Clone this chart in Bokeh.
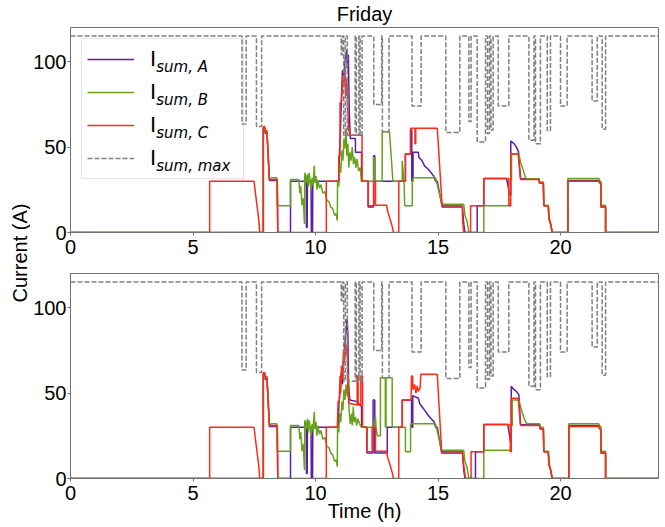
import math
from bokeh.plotting import figure
from bokeh.models import (Range1d, Label, Legend, LegendItem, ColumnDataSource,
                          FixedTicker)
from bokeh.layouts import row, column
from bokeh.embed import file_html
from bokeh.resources import INLINE

# ---------------- data (time in h, current in A) ----------------
x_ticks = [0, 5, 10, 15, 20]
y_ticks = [0, 50, 100]
title_text = "Friday"
x_label = "Time (h)"
y_label = "Current (A)"
legend_sub = ["sum, A", "sum, B", "sum, C", "sum, max"]

i_max = [(0, 115), (7.0, 115), (7.0, 63.5), (7.17, 63.5), (7.17, 115), (7.59, 115), (7.59, 62),
         (7.8, 62), (7.8, 115), (11.05, 115), (11.05, 104), (11.1, 104), (11.1, 115), (11.15, 115),
         (11.15, 57), (11.22, 57), (11.22, 115), (11.3, 115), (11.3, 57), (11.62, 57), (11.62, 115),
         (11.67, 115), (11.67, 57), (11.77, 57), (11.77, 115), (11.82, 115), (11.82, 57), (11.9, 57),
         (11.9, 115), (12.38, 115), (12.38, 75), (12.7, 75), (12.7, 115), (12.73, 115), (12.73, 59),
         (13.0, 59), (13.0, 115), (13.94, 115), (13.94, 74), (14.31, 74), (14.31, 115), (15.32, 115),
         (15.32, 58.5), (15.89, 58.5), (15.89, 115), (16.26, 115), (16.26, 65), (16.35, 65),
         (16.35, 115), (16.6, 115), (16.6, 53), (16.94, 53), (16.94, 115), (17.02, 115), (17.02, 58),
         (17.1, 58), (17.1, 115), (17.16, 115), (17.16, 60), (17.25, 60), (17.25, 115),
         (17.46, 115), (17.46, 74), (17.89, 74), (17.89, 115),
         (18.71, 115), (18.71, 54), (18.92, 54), (18.92, 115), (18.98, 115), (18.98, 52), (19.18, 52),
         (19.18, 115), (19.46, 115), (19.46, 59.5), (19.59, 59.5), (19.59, 115), (20.0, 115),
         (20.0, 74), (20.27, 74), (20.27, 115), (21.29, 115), (21.29, 77), (21.5, 77), (21.5, 115),
         (21.7, 115), (21.7, 60.5), (21.84, 60.5), (21.84, 115), (24, 115)]

top_A = [(0, 0), (7.87, 0), (7.87, 61), (7.93, 61), (7.95, 58), (8.02, 58), (8.12, 30.5), (8.44, 30.5),
         (8.46, 0), (8.98, 0), (8.98, 30), (9.62, 30), (9.63, 3), (9.66, 3), (9.67, 30), (9.82, 30),
         (9.83, 0), (9.88, 0), (9.89, 30), (10.95, 30), (10.98, 48), (11.02, 60), (11.06, 80),
         (11.1, 95), (11.15, 88), (11.2, 100), (11.27, 107), (11.3, 96), (11.34, 104), (11.38, 70),
         (11.42, 55), (11.63, 55), (11.63, 47), (11.88, 47), (11.88, 30), (12.15, 30), (12.15, 15),
         (12.37, 15), (12.37, 45), (12.42, 45), (12.42, 30), (13.67, 30), (13.67, 46), (13.88, 46),
         (13.88, 60), (13.93, 60), (13.93, 30), (13.98, 30), (13.98, 47), (14.2, 47), (14.22, 44),
         (14.35, 42), (14.45, 39), (14.6, 37), (14.72, 35), (14.83, 33), (14.9, 30), (14.97, 30),
         (15.17, 15), (16.0, 15), (16.05, 5), (16.1, 0), (16.6, 0), (16.6, 15.6), (16.87, 15.6),
         (16.87, 31.6), (17.8, 31.6), (17.86, 27), (17.92, 22), (17.97, 22), (17.97, 53.5),
         (18.1, 52), (18.2, 50), (18.28, 47.5), (18.37, 31.5), (19.12, 31.5), (19.14, 29), (19.3, 29),
         (19.32, 15.6), (19.5, 15.6), (19.53, 8), (19.6, 5), (19.66, 0), (20.3, 0), (20.3, 30.5),
         (21.57, 30.5), (21.6, 29), (21.65, 29), (21.65, 15), (21.84, 15), (21.84, 0), (24, 0)]

top_B = [(0, 0), (7.87, 0), (7.87, 61), (7.93, 61), (7.95, 59), (8.02, 59), (8.12, 31), (8.2, 32),
         (8.42, 32), (8.44, 15.6), (8.98, 15.6), (8.98, 31), (9.32, 31), (9.36, 23), (9.4, 27),
         (9.45, 16), (9.5, 20), (9.55, 5), (9.56, 35), (9.6, 33), (9.63, 29), (9.67, 34), (9.71, 27),
         (9.74, 35), (9.78, 30), (9.82, 25), (9.86, 32), (9.9, 28), (9.95, 39), (9.98, 29),
         (10.02, 33), (10.06, 25), (10.1, 31), (10.16, 26), (10.22, 28), (10.3, 23), (10.38, 24),
         (10.46, 19), (10.55, 18), (10.62, 15), (10.7, 14), (10.78, 10), (10.84, 11), (10.89, 7),
         (10.9, 30), (10.95, 27), (10.99, 40), (11.03, 35), (11.08, 48), (11.12, 42), (11.16, 55),
         (11.2, 49), (11.25, 61), (11.28, 45), (11.32, 52), (11.36, 38), (11.4, 47), (11.45, 42),
         (11.5, 50), (11.55, 40), (11.6, 44), (11.65, 38), (11.7, 43), (11.76, 36), (11.82, 38),
         (11.88, 30), (12.38, 30), (12.38, 44), (12.43, 44), (12.43, 30), (12.72, 30), (12.72, 59),
         (13.02, 59), (13.16, 30), (13.54, 30), (13.54, 42), (13.62, 28), (13.64, 15.6), (13.95, 15.6),
         (13.95, 30), (14.0, 32), (14.9, 32), (15.17, 16.5), (16.05, 16.5), (16.1, 10), (16.18, 7),
         (16.26, 0), (16.87, 0), (16.87, 15.6), (17.95, 15.6), (17.95, 31), (18.0, 31), (18.0, 46),
         (18.3, 46), (18.37, 41), (18.45, 38), (18.55, 33), (18.6, 31.5), (19.12, 31.5),
         (19.14, 29.5), (19.3, 29.5), (19.32, 16), (19.5, 16), (19.55, 8), (19.62, 3), (19.66, 0),
         (20.3, 0), (20.3, 31.6), (21.57, 31.6), (21.6, 30), (21.65, 30), (21.65, 16), (21.84, 16),
         (21.84, 0), (24, 0)]

top_C = [(0, 0), (5.68, 0), (5.68, 30), (7.49, 30), (7.6, 17), (7.68, 8), (7.71, 3), (7.72, 0),
         (7.87, 0), (7.87, 62), (7.93, 62), (7.95, 59.5), (8.02, 59.5), (8.12, 31), (8.44, 31),
         (8.46, 0), (10.44, 0), (10.44, 30), (10.95, 30), (10.95, 45), (11.0, 45), (11.0, 76),
         (11.06, 76), (11.08, 82), (11.12, 92), (11.15, 85), (11.2, 95), (11.24, 80), (11.28, 90),
         (11.32, 70), (11.36, 60), (11.4, 57), (11.9, 57), (11.9, 30), (12.15, 30), (12.15, 15.6),
         (12.38, 15.6), (12.38, 30), (12.45, 30), (12.45, 16), (12.9, 16), (12.95, 12), (13.02, 9),
         (13.08, 6), (13.14, 3), (13.18, 0), (13.4, 0), (13.4, 30), (13.67, 30), (13.67, 46),
         (13.88, 46), (13.88, 61), (14.06, 61), (14.06, 52), (14.09, 52), (14.09, 61), (14.97, 61),
         (15.17, 15.6), (15.99, 15.6), (16.0, 8), (16.03, 3), (16.05, 0), (16.33, 0), (16.33, 15.6),
         (16.87, 15.6), (16.87, 31.6), (17.89, 31.6), (17.89, 15.6), (17.97, 15.6), (17.97, 46),
         (18.27, 46), (18.37, 31), (19.12, 31), (19.14, 29), (19.3, 29), (19.32, 15.6), (19.5, 15.6),
         (19.53, 8), (19.6, 5), (19.66, 0), (20.3, 0), (20.3, 30), (21.57, 30), (21.6, 29),
         (21.65, 29), (21.65, 15), (21.84, 15), (21.84, 0), (24, 0)]

bot_A = [(0, 0), (7.87, 0), (7.87, 61), (7.93, 61), (7.95, 58), (8.02, 58), (8.12, 30.5), (8.44, 30.5),
         (8.46, 0), (8.98, 0), (8.98, 30), (9.62, 30), (9.63, 3), (9.66, 3), (9.67, 30), (9.82, 30),
         (9.83, 0), (9.88, 0), (9.89, 30), (10.92, 30), (10.96, 45), (11.0, 50), (11.05, 62),
         (11.1, 55), (11.15, 70), (11.2, 80), (11.25, 86), (11.29, 93.5), (11.32, 85), (11.35, 55),
         (11.4, 46), (11.7, 45), (11.88, 42), (11.88, 30), (12.1, 30), (12.1, 15), (12.35, 15),
         (12.35, 46), (12.42, 46), (12.42, 15), (12.93, 15), (12.93, 30), (13.54, 30), (13.54, 46),
         (13.92, 46), (13.92, 30), (13.97, 30), (13.97, 48.5), (14.2, 47), (14.25, 44), (14.35, 42),
         (14.45, 40), (14.6, 37), (14.72, 35), (14.85, 33), (14.9, 30), (14.97, 30), (15.15, 15),
         (16.0, 15), (16.05, 5), (16.1, 0), (16.53, 0), (16.53, 15.6), (16.87, 15.6), (16.87, 31.6),
         (17.85, 31.6), (17.9, 27), (17.95, 22), (17.99, 22), (17.99, 54), (18.1, 52), (18.2, 51),
         (18.3, 49), (18.37, 31.5), (19.15, 31.5), (19.17, 29), (19.3, 29), (19.32, 15.6),
         (19.5, 15.6), (19.53, 8), (19.6, 5), (19.66, 0), (20.34, 0), (20.34, 31), (21.57, 31),
         (21.6, 29), (21.65, 29), (21.65, 15), (21.84, 15), (21.84, 0), (24, 0)]

bot_B = [(0, 0), (7.87, 0), (7.87, 61), (7.93, 61), (7.95, 59), (8.02, 59), (8.12, 31), (8.2, 32),
         (8.42, 32), (8.44, 16), (8.98, 16), (8.98, 31), (9.32, 31), (9.36, 23), (9.4, 27),
         (9.45, 16), (9.5, 20), (9.55, 5), (9.56, 34), (9.6, 33), (9.63, 29), (9.67, 35), (9.71, 27),
         (9.74, 34), (9.78, 30), (9.82, 25), (9.86, 32), (9.9, 28), (9.95, 39), (9.98, 29),
         (10.02, 33), (10.06, 25), (10.1, 31), (10.16, 26), (10.22, 28), (10.3, 23), (10.38, 24),
         (10.46, 19), (10.55, 18), (10.62, 15), (10.7, 14), (10.78, 10), (10.84, 11), (10.89, 7),
         (10.9, 30), (10.95, 27), (10.99, 38), (11.03, 33), (11.08, 45), (11.12, 40), (11.16, 52),
         (11.2, 46), (11.25, 55), (11.3, 48), (11.34, 61), (11.37, 40), (11.42, 32), (11.47, 38),
         (11.5, 31), (11.54, 42), (11.58, 33), (11.63, 36), (11.68, 31), (11.73, 35), (11.8, 32),
         (11.88, 30), (12.38, 30), (12.45, 36), (12.47, 30), (12.52, 25), (12.65, 25), (12.65, 59),
         (12.85, 59), (12.85, 30), (12.88, 30), (12.88, 59), (13.13, 59), (13.13, 30), (13.67, 30),
         (13.67, 15.7), (13.88, 15.7), (13.88, 32), (14.9, 32), (15.15, 16.5), (16.05, 16.5),
         (16.1, 10), (16.18, 7), (16.26, 0), (16.87, 0), (16.87, 16.5), (17.99, 16.5), (17.99, 31),
         (18.03, 31), (18.03, 46), (18.3, 46), (18.37, 42), (18.45, 38), (18.55, 34), (18.62, 32),
         (19.15, 32), (19.17, 30), (19.3, 30), (19.32, 16), (19.5, 16), (19.55, 8), (19.62, 3),
         (19.66, 0), (20.34, 0), (20.34, 32), (21.57, 32), (21.6, 30.5), (21.65, 30.5), (21.65, 16),
         (21.84, 16), (21.84, 0), (24, 0)]

bot_C = [(0, 0), (5.68, 0), (5.68, 30), (7.49, 30), (7.6, 17), (7.68, 8), (7.71, 3), (7.72, 0),
         (7.87, 0), (7.87, 62), (7.93, 62), (7.95, 59.5), (8.02, 59.5), (8.12, 31), (8.44, 31),
         (8.46, 0), (10.44, 0), (10.44, 30), (10.89, 30), (10.92, 45), (10.97, 45), (11.0, 60),
         (11.03, 50), (11.06, 66), (11.1, 58), (11.14, 75), (11.18, 68), (11.22, 80), (11.26, 72),
         (11.3, 78), (11.33, 50), (11.36, 44), (11.7, 43), (11.7, 60), (11.74, 60), (11.74, 43),
         (11.85, 43), (11.85, 60), (11.92, 60), (11.92, 30), (12.1, 30), (12.1, 15.6), (12.31, 15.6),
         (12.31, 30), (12.45, 30), (12.45, 16), (12.9, 16), (12.95, 12), (13.02, 9), (13.08, 6),
         (13.14, 3), (13.18, 0), (13.4, 0), (13.4, 30), (13.54, 30), (13.54, 46), (13.9, 46),
         (13.92, 60), (13.96, 60), (13.98, 52), (14.05, 55), (14.1, 50), (14.15, 54), (14.2, 51),
         (14.27, 53), (14.3, 61), (14.97, 61), (15.15, 15.6), (16.0, 15.6), (16.05, 8), (16.12, 0),
         (16.35, 0), (16.35, 15.6), (16.87, 15.6), (16.87, 31.6), (17.95, 31.6), (17.95, 15.6),
         (17.99, 15.6), (17.99, 47), (18.27, 47), (18.37, 31), (19.15, 31), (19.17, 29), (19.3, 29),
         (19.32, 15.6), (19.5, 15.6), (19.53, 8), (19.6, 5), (19.66, 0), (20.34, 0), (20.34, 30.5),
         (21.57, 30.5), (21.6, 29), (21.65, 29), (21.65, 15), (21.84, 15), (21.84, 0), (24, 0)]

# ---------------- styling ----------------
FONT = "Liberation Sans"
COL_A = "#5b1ea6"
COL_B = "#67a21d"
COL_C = "#ff2b14"
COL_MAX = "#808080"
SPINE = "#707070"
FW, FH = 588, 205
LW = 1.5
STRIP_W = 30
LEFT_B = 68 - STRIP_W
TITLE_H = 27
TOP_B = (0, 32)      # top figure: border top / bottom
BOT_B = (9, 46)      # bottom figure: border top / bottom


def add_series(p, data, color, dash="solid"):
    src = ColumnDataSource(dict(t=[a for a, _ in data], v=[b for _, b in data]))
    return p.line("t", "v", source=src, line_color=color, line_width=LW, line_dash=dash)


def blank(p):
    p.outline_line_color = None
    p.xgrid.visible = False
    p.ygrid.visible = False
    p.background_fill_color = "white"
    p.border_fill_color = "white"


def make_panel(series, top):
    bt, bb = TOP_B if top else BOT_B
    p = figure(frame_width=FW, frame_height=FH,
               x_range=Range1d(0, 24), y_range=Range1d(0, 120),
               output_backend="svg", toolbar_location=None,
               min_border_left=LEFT_B, min_border_right=1,
               min_border_top=bt, min_border_bottom=bb)
    p.background_fill_color = "white"
    p.border_fill_color = "white"
    p.outline_line_color = SPINE
    p.outline_line_width = 1
    p.xgrid.visible = False
    p.ygrid.visible = False
    for ax in (p.xaxis[0], p.yaxis[0]):
        ax.axis_line_color = SPINE
        ax.major_tick_line_color = SPINE
        ax.minor_tick_line_color = None
        ax.major_tick_in = 0
        ax.major_tick_out = 3
        ax.major_label_text_font = FONT
        ax.major_label_text_font_size = "20px"
        ax.major_label_text_color = "black"
    p.xaxis.ticker = FixedTicker(ticks=x_ticks)
    p.yaxis.ticker = FixedTicker(ticks=y_ticks)
    p.xaxis.major_label_standoff = 4
    p.yaxis.major_label_standoff = 1

    rA = add_series(p, series[0], COL_A)
    rB = add_series(p, series[1], COL_B)
    rC = add_series(p, series[2], COL_C)
    rM = add_series(p, series[3], COL_MAX, "5 2")
    return p, [rA, rB, rC, rM]


p1, rs1 = make_panel([top_A, top_B, top_C, i_max], True)
p2, rs2 = make_panel([bot_A, bot_B, bot_C, i_max], False)

# title strip above the top panel
pt = figure(frame_width=FW, frame_height=TITLE_H, x_axis_type=None, y_axis_type=None,
            x_range=Range1d(0, 1), y_range=Range1d(0, 1),
            output_backend="svg", toolbar_location=None,
            min_border_left=LEFT_B, min_border_right=1, min_border_top=0, min_border_bottom=0)
blank(pt)
pt.add_layout(Label(x=FW / 2, y=TITLE_H - 13, x_units="screen", y_units="screen",
                    text=title_text, text_font=FONT, text_font_size="20px",
                    text_align="center", text_baseline="middle", text_color="black"))

# x axis label (bottom panel)
p2.xaxis.axis_label = x_label
p2.xaxis.axis_label_text_font = FONT
p2.xaxis.axis_label_text_font_size = "20px"
p2.xaxis.axis_label_text_font_style = "normal"
p2.xaxis.axis_label_text_color = "black"
p2.xaxis.axis_label_standoff = -3

# legend (top panel)
legend = Legend(items=[LegendItem(label="I", renderers=[r]) for r in rs1],
                location="top_left", margin=11, padding=5, spacing=3,
                glyph_width=47, glyph_height=30, label_height=30, label_width=88,
                label_standoff=16, label_text_font=FONT, label_text_font_size="22px",
                label_text_color="black",
                border_line_color="#cccccc", border_line_width=1,
                background_fill_color="white", background_fill_alpha=0.0)
p1.add_layout(legend)
for k, sub in enumerate(legend_sub):
    yc = 11 + 5 + 15 + 33 * k
    p1.add_layout(Label(x=85.7, y=FH - (yc + 8.5), x_units="screen", y_units="screen",
                        text=sub, text_font="DejaVu Sans", text_font_style="italic",
                        text_font_size="15px", text_align="left", level="overlay",
                        text_baseline="alphabetic", text_color="black"))

# shared y label in a narrow strip
TOTAL_H = TITLE_H + sum(TOP_B) + sum(BOT_B) + 2 * FH
yl = figure(frame_width=STRIP_W, frame_height=TOTAL_H, x_axis_type=None, y_axis_type=None,
            x_range=Range1d(0, 1), y_range=Range1d(0, 1),
            output_backend="svg", toolbar_location=None, min_border=0)
blank(yl)
yl.add_layout(Label(x=19, y=TOTAL_H - 252.5, x_units="screen", y_units="screen", text=y_label,
                    angle=math.pi / 2, text_font=FONT, text_font_size="20px",
                    text_align="center", text_baseline="middle", text_color="black"))

layout = row(yl, column(pt, p1, p2))
open("out.html", "w").write(file_html(layout, INLINE))
